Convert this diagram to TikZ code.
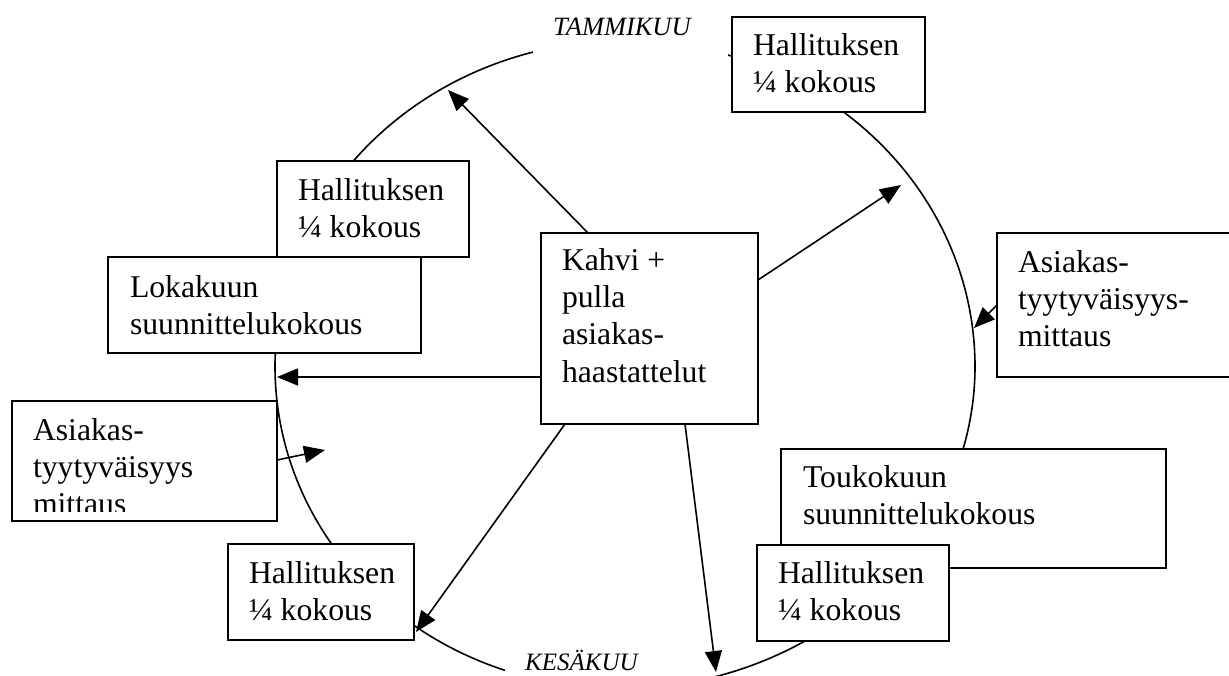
\documentclass[tikz,border=0pt]{standalone}
\usepackage{fontspec}
\setmainfont{Liberation Serif}
\usetikzlibrary{arrows.meta,calc}

\newcommand{\boxfont}{\fontsize{31.7}{37.4}\selectfont}
\newcommand{\tamfont}{\itshape\fontsize{26.4}{30}\selectfont}
\newcommand{\kesfont}{\itshape\fontsize{25}{30}\selectfont}
\newcommand{\rows}[1]{\vtop{#1}}
\newcommand{\row}[1]{\hbox{#1}}

\tikzset{
  box/.style={draw, fill=white, line width=2pt, rectangle, inner sep=0pt,
              outer sep=0pt, anchor=north west},
  txt/.style={anchor=base west, inner sep=0pt, outer sep=0pt, font=\boxfont},
  gap/.style={fill=white, draw=none, rectangle, inner sep=0pt, anchor=north west},
  arr/.style={-{Triangle[length=21pt,width=17pt]}, line width=1.6pt},
  yearline/.style={line width=1.6pt}
}

\begin{document}
\begin{tikzpicture}[x=1pt, y=-1pt]
\useasboundingbox (0,0) rectangle (1229,675);
\clip (0,0) rectangle (1229,675);

% the year cycle
\draw[yearline] plot[domain=0:360, samples=361, variable=\t]
  ({625+350*cos(\t)}, {366.6+((sin(\t)>0) ? (322-4*cos(\t)) : 326)*sin(\t)}) -- cycle;

% month labels on the cycle
\node[gap, minimum width=195pt, minimum height=52pt] (tamgap) at (533,8) {};
\node[anchor=base west, inner sep=0pt, font=\tamfont] (tam) at (553,35) {TAMMIKUU};
\node[gap, minimum width=203pt, minimum height=50pt] (kesgap) at (505,640) {};
\node[anchor=base west, inner sep=0pt, font=\kesfont] (kes) at (525,670) {KESÄKUU};

% boxes
\node[box, minimum width=193pt, minimum height=95pt] (hq1) at (732,17) {};
\node[txt] (hq1t) at (753,55) {\rows{\row{Hallituksen}\row{¼ kokous}}};

\node[box, minimum width=192pt, minimum height=96pt] (hq2) at (277,161) {};
\node[txt] (hq2t) at (298,200) {\rows{\row{Hallituksen}\row{¼ kokous}}};

\node[box, minimum width=313pt, minimum height=96pt] (lok) at (108,257) {};
\node[txt] (lokt) at (130,297) {\rows{\row{Lokakuun}\row{suunnittelukokous}}};

\node[box, minimum width=217pt, minimum height=191pt] (kahvi) at (541,233) {};
\node[txt] (kahvit) at (562,270) {\rows{\row{Kahvi +}\row{pulla}\row{asiakas-}\row{haastattelut}}};

\node[box, minimum width=250pt, minimum height=144pt] (asr) at (997,233) {};
\node[txt] (asrt) at (1018,272) {\rows{\row{Asiakas-}\row{tyytyväisyys-}\row{mittaus}}};

\node[box, minimum width=265pt, minimum height=120pt] (asl) at (12,401) {};
\begin{scope}
  \clip (asl.north west) rectangle ([yshift=10pt]asl.south east);
  \node[txt] (aslt) at (33,440) {\rows{\row{Asiakas-}\row{tyytyväisyys}\row{mittaus}}};
\end{scope}

\node[box, minimum width=186pt, minimum height=96pt] (hq3) at (228,544) {};
\node[txt] (hq3t) at (249,583) {\rows{\row{Hallituksen}\row{¼ kokous}}};

\node[box, minimum width=385pt, minimum height=119pt] (tou) at (781,449) {};
\node[txt] (tout) at (803,487) {\rows{\row{Toukokuun}\row{suunnittelukokous}}};

\node[box, minimum width=192pt, minimum height=96pt] (hq4) at (757,545) {};
\node[txt] (hq4t) at (778,583) {\rows{\row{Hallituksen}\row{¼ kokous}}};

% arrow ends on the cycle
\coordinate (tipA) at (448,90);
\coordinate (tipB) at (901,185);
\coordinate (tipC) at (277,377);
\coordinate (tipD) at (325,450);
\coordinate (tipE) at (416,632);
\coordinate (tipF) at (716,672);
\coordinate (tipG) at (974,328);

% arrows
\draw[arr] ($(kahvi.north west)+(47,0)$) -- (tipA);
\draw[arr] ($(kahvi.north east)+(0,47)$) -- (tipB);
\draw[arr] ($(kahvi.north west)+(0,144)$) -- (tipC);
\draw[arr] ($(kahvi.south west)+(24,0)$) -- (tipE);
\draw[arr] ($(kahvi.south west)+(144,0)$) -- (tipF);
\draw[arr] ($(asl.north east)+(0,59)$) -- (tipD);
\draw[arr] ($(asr.north west)+(0,72)$) -- (tipG);
\end{tikzpicture}
\end{document}
